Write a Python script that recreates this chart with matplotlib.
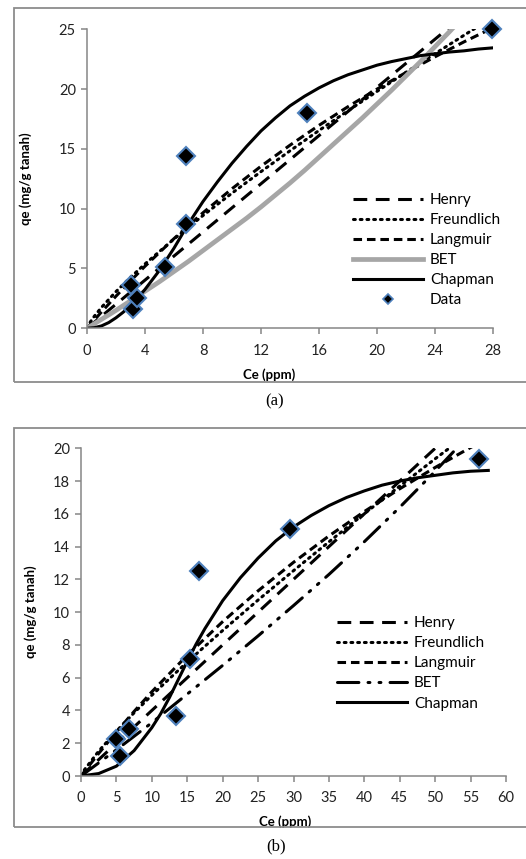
import matplotlib
matplotlib.use('Agg')
import matplotlib.pyplot as plt
from matplotlib.patches import Rectangle
from matplotlib.lines import Line2D

plt.rcParams['font.family'] = ['Lato', 'DejaVu Sans']

# ---------------- (a) ----------------
data_a_ce = [3.0, 3.2, 3.45, 5.4, 6.8, 6.85, 15.2, 27.9]
data_a_qe = [3.6, 1.6, 2.5, 5.15, 8.75, 14.4, 18.0, 25.0]

henry_a_ce = [0, 28]
henry_a_qe = [0, 28.2]

freund_a_ce = [0, 0.1, 0.25, 0.5, 1, 2, 3, 4, 6, 8, 10, 12, 14, 16, 18, 20, 22, 24, 26, 28]
freund_a_qe = [0, 0.27, 0.57, 1.00, 1.75, 3.07, 4.26, 5.38, 7.47, 9.43, 11.30, 13.10,
               14.84, 16.54, 18.19, 19.81, 21.40, 22.96, 24.50, 26.02]

langm_a_ce = [0, 1, 2, 3, 4, 6, 8, 10, 12, 14, 16, 18, 20, 22, 24, 26, 28]
langm_a_qe = [0, 1.37, 2.69, 3.96, 5.19, 7.50, 9.66, 11.67, 13.55, 15.31, 16.97, 18.53,
              20.0, 21.39, 22.70, 23.95, 25.13]

bet_a_ce = list(range(0, 27))
bet_a_qe = [0, 0.75, 1.5, 2.3, 3.1, 3.9, 4.75, 5.6, 6.5, 7.4, 8.3, 9.2, 10.15, 11.15,
            12.15, 13.2, 14.3, 15.4, 16.5, 17.6, 18.75, 19.9, 21.1, 22.3, 23.55, 24.8, 26.1]

chap_a_ce = [0, 0.5, 1, 1.5, 2, 2.5, 3, 3.5, 4, 5, 6, 7, 8, 9, 10, 11, 12, 13, 14, 15, 16,
             17, 18, 19, 20, 21, 22, 23, 24, 25, 26, 27, 28]
chap_a_qe = [0, 0.05, 0.2, 0.48, 0.88, 1.35, 1.9, 2.55, 3.25, 4.85, 6.7, 8.75, 10.6,
             12.25, 13.8, 15.2, 16.5, 17.6, 18.6, 19.4, 20.1, 20.7, 21.2, 21.6, 22.0,
             22.3, 22.55, 22.8, 22.95, 23.1, 23.2, 23.35, 23.45]

# ---------------- (b) ----------------
data_b_ce = [4.9, 5.5, 6.8, 13.4, 15.4, 16.7, 29.5, 56.2]
data_b_qe = [2.24, 1.22, 2.85, 3.68, 7.14, 12.5, 15.06, 19.33]

henry_b_ce = [0, 57]
henry_b_qe = [0, 22.8]

freund_b_ce = [0, 0.5, 2.5, 5, 7.5, 10, 15, 20, 25, 30, 35, 40, 45, 50, 55]
freund_b_qe = [0, 0.39, 1.52, 2.73, 3.86, 4.93, 6.96, 8.88, 10.74, 12.53, 14.29, 16.01,
               17.69, 19.36, 20.99]

langm_b_ce = [0, 2.5, 5, 7.5, 10, 15, 20, 25, 30, 35, 40, 45, 50, 55, 57]
langm_b_qe = [0, 1.38, 2.69, 3.94, 5.14, 7.37, 9.42, 11.30, 13.04, 14.65, 16.14, 17.53,
              18.83, 20.05, 20.5]

bet_b_ce = [0, 5, 10, 15, 20, 25, 30, 35, 40, 45, 50, 55]
bet_b_qe = [0, 1.6, 3.25, 5.0, 6.75, 8.55, 10.4, 12.3, 14.3, 16.4, 18.6, 20.9]

chap_b_ce = [0, 2.5, 5, 7.5, 10, 11.25, 12.5, 13.75, 15, 16.25, 17.5, 20, 22.5, 25, 27.5,
             30, 32.5, 35, 37.5, 40, 42.5, 45, 47.5, 50, 52.5, 55, 57.5]
chap_b_qe = [0, 0.15, 0.6, 1.55, 2.95, 3.8, 4.8, 5.9, 7.0, 8.05, 9.0, 10.7, 12.1, 13.3,
             14.35, 15.2, 15.9, 16.5, 17.0, 17.4, 17.75, 18.0, 18.2, 18.35, 18.5, 18.6,
             18.65]

W, H = 526, 859
fig = plt.figure(figsize=(W / 100, H / 100), dpi=100)

# chart-area frames
for top, bot in [(8, 381.7), (428.3, 827.3)]:
    fig.patches.append(Rectangle((14 / W, 1 - bot / H), 1.0, (bot - top) / H,
                                 transform=fig.transFigure, fill=False,
                                 edgecolor='#8c8c8c', linewidth=1.3))

axis_grey = '#868686'
lw = 2.2


def style_axes(ax):
    for s in ['top', 'right']:
        ax.spines[s].set_visible(False)
    for s in ['left', 'bottom']:
        ax.spines[s].set_color(axis_grey)
        ax.spines[s].set_linewidth(1.1)
    ax.tick_params(direction='out', length=4, width=1.1, color=axis_grey,
                   labelsize=10.5, labelcolor='#222222', pad=4)
    ax.tick_params(axis='x', pad=7)


def draw(ax, curves, bet_style):
    ce, qe = curves['henry']
    ax.plot(ce, qe, color='black', lw=lw, dashes=(4.5, 2.8), label='Henry')
    ce, qe = curves['freund']
    ax.plot(ce, qe, color='black', lw=lw, dashes=(0.6, 1.6), dash_capstyle='round',
            label='Freundlich')
    ce, qe = curves['langm']
    ax.plot(ce, qe, color='black', lw=lw, dashes=(2.8, 1.6), label='Langmuir')
    ce, qe = curves['bet']
    if bet_style == 'grey':
        ax.plot(ce, qe, color='#a6a6a6', lw=3.4, label='BET')
    else:
        ax.plot(ce, qe, color='black', lw=lw, dashes=(7, 3, 0.6, 3, 0.6, 3),
                dash_capstyle='round', label='BET')
    ce, qe = curves['chap']
    ax.plot(ce, qe, color='black', lw=lw, label='Chapman')


leg_kw = dict(loc='upper left', frameon=False, fontsize=11, handlelength=4.6,
              handletextpad=0.45, labelspacing=0.4, borderaxespad=0, borderpad=0)

# ---------- panel (a) ----------
ax1 = fig.add_axes([87 / W, 1 - 328.3 / H, 406 / W, 299 / H])
draw(ax1, {'henry': (henry_a_ce, henry_a_qe), 'freund': (freund_a_ce, freund_a_qe),
           'langm': (langm_a_ce, langm_a_qe), 'bet': (bet_a_ce, bet_a_qe),
           'chap': (chap_a_ce, chap_a_qe)}, 'grey')
ax1.plot(data_a_ce, data_a_qe, ls='none', marker='D', ms=9, mfc='black',
         mec='#4f81bd', mew=1.5, clip_on=False, zorder=5)
ax1.set_xlim(0, 28)
ax1.set_ylim(0, 25)
ax1.set_xticks(range(0, 29, 4))
ax1.set_yticks(range(0, 26, 5))
style_axes(ax1)
ax1.set_xlabel('Ce (ppm)', fontsize=9.5, fontweight='bold')
ax1.set_ylabel('qe (mg/g tanah)', fontsize=9.5, fontweight='bold')
ax1.xaxis.set_label_coords(0.448, -0.133)
ax1.yaxis.set_label_coords(-0.136, 0.5)
h, l = ax1.get_legend_handles_labels()
h.append(Line2D([], [], ls='none', marker='D', ms=5, mfc='black', mec='#4f81bd', mew=1.2))
l.append('Data')
ax1.legend(h, l, bbox_to_anchor=(0.655, 0.453), **leg_kw)
fig.text(275 / W, 1 - 401.7 / H, '(a)', ha='center', va='center', fontsize=12,
         family='Liberation Serif')

# ---------- panel (b) ----------
ax2 = fig.add_axes([81 / W, 1 - 776 / H, 425 / W, 327.7 / H])
draw(ax2, {'henry': (henry_b_ce, henry_b_qe), 'freund': (freund_b_ce, freund_b_qe),
           'langm': (langm_b_ce, langm_b_qe), 'bet': (bet_b_ce, bet_b_qe),
           'chap': (chap_b_ce, chap_b_qe)}, 'dashdot')
ax2.plot(data_b_ce, data_b_qe, ls='none', marker='D', ms=9, mfc='black',
         mec='#4f81bd', mew=1.5, clip_on=False, zorder=5)
ax2.set_xlim(0, 60)
ax2.set_ylim(0, 20)
ax2.set_xticks(range(0, 61, 5))
ax2.set_yticks(range(0, 21, 2))
style_axes(ax2)
ax2.set_xlabel('Ce (ppm)', fontsize=9.5, fontweight='bold')
ax2.set_ylabel('qe (mg/g tanah)', fontsize=9.5, fontweight='bold')
ax2.xaxis.set_label_coords(0.48, -0.121)
ax2.yaxis.set_label_coords(-0.104, 0.5)
ax2.legend(bbox_to_anchor=(0.602, 0.488), **leg_kw)
fig.text(276 / W, 1 - 846.7 / H, '(b)', ha='center', va='center', fontsize=12,
         family='Liberation Serif')

fig.savefig('out.png', dpi=100)
